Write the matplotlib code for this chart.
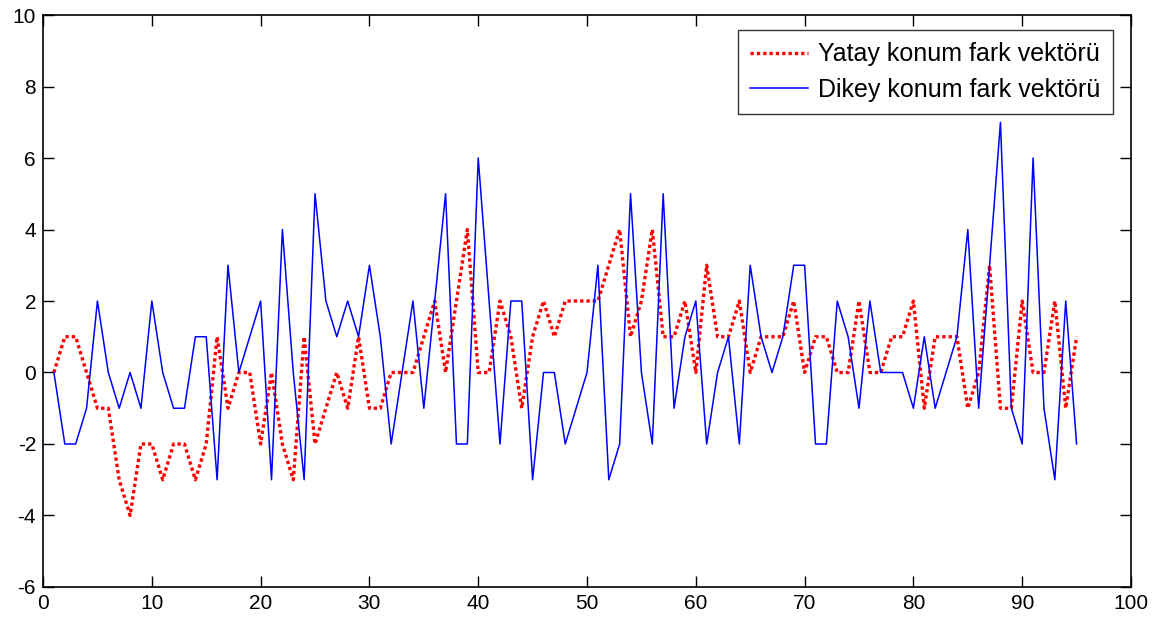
import matplotlib
matplotlib.use("Agg")
import matplotlib.pyplot as plt
import numpy as np

# Data (index 1..95)
yatay = [0, 1, 1, 0, -1, -1, -3, -4, -2, -2,
         -3, -2, -2, -3, -2, 1, -1, 0, 0, -2,
         0, -2, -3, 1, -2, -1, 0, -1, 1, -1,
         -1, 0, 0, 0, 1, 2, 0, 2, 4, 0,
         0, 2, 1, -1, 1, 2, 1, 2, 2, 2,
         2, 3, 4, 1, 2, 4, 1, 1, 2, 0,
         3, 1, 1, 2, 0, 1, 1, 1, 2, 0,
         1, 1, 0, 0, 2, 0, 0, 1, 1, 2,
         -1, 1, 1, 1, -1, 0, 3, -1, -1, 2,
         0, 0, 2, -1, 1]
dikey = [0, -2, -2, -1, 2, 0, -1, 0, -1, 2,
         0, -1, -1, 1, 1, -3, 3, 0, 1, 2,
         -3, 4, 0, -3, 5, 2, 1, 2, 1, 3,
         1, -2, 0, 2, -1, 2, 5, -2, -2, 6,
         2, -2, 2, 2, -3, 0, 0, -2, -1, 0,
         3, -3, -2, 5, 0, -2, 5, -1, 1, 2,
         -2, 0, 1, -2, 3, 1, 0, 1, 3, 3,
         -2, -2, 2, 1, -1, 2, 0, 0, 0, -1,
         1, -1, 0, 1, 4, -1, 3, 7, -1, -2,
         6, -1, -3, 2, -2]
x = np.arange(1, len(yatay) + 1)

labels = ["Yatay konum fark vektörü", "Dikey konum fark vektörü"]
xticks = list(range(0, 101, 10))
yticks = list(range(-6, 11, 2))

plt.rcParams['font.family'] = ['Liberation Sans', 'DejaVu Sans']
plt.rcParams['axes.unicode_minus'] = False

fig = plt.figure(figsize=(11.6, 6.23), dpi=100)
ax = fig.add_axes([0.0371, 0.0578, 0.9379, 0.9181])

ax.plot(x, yatay, color='#ff0000', linestyle=(0, (1, 0.9)), linewidth=2.4,
        label=labels[0])
ax.plot(x, dikey, color='#0000ff', linestyle='-', linewidth=1.1,
        label=labels[1])

ax.set_xlim(0, 100)
ax.set_ylim(-6, 10)
ax.set_xticks(xticks)
ax.set_yticks(yticks)
ax.tick_params(direction='in', length=8, width=1, top=True, right=True,
               labelsize=15, pad=5)
for s in ax.spines.values():
    s.set_linewidth(1.2)

leg = ax.legend(loc='upper right', bbox_to_anchor=(0.983, 0.974),
                borderaxespad=0, fontsize=18, frameon=True, fancybox=False,
                handlelength=2.3, handletextpad=0.4, borderpad=0.5,
                labelspacing=0.45)
leg.get_frame().set_edgecolor('black')
leg.get_frame().set_linewidth(1.0)

fig.savefig('out.png', dpi=100)
